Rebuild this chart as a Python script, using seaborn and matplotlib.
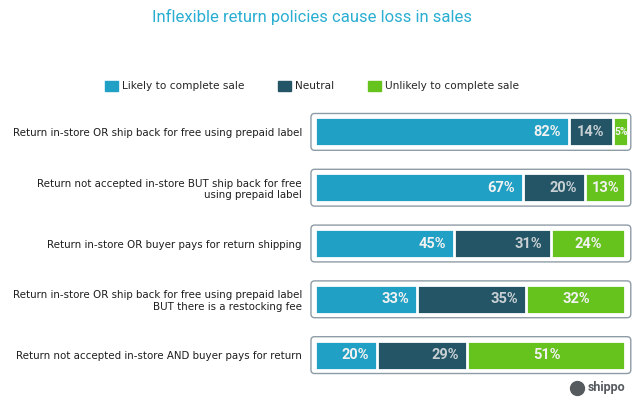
import numpy as np
import pandas as pd
import matplotlib.pyplot as plt
import seaborn as sns
from matplotlib.patches import FancyBboxPatch, Patch
from matplotlib.lines import Line2D

# ---- data ----
policies = [
    "Return in-store OR ship back for free using prepaid label",
    "Return not accepted in-store BUT ship back for free\nusing prepaid label",
    "Return in-store OR buyer pays for return shipping",
    "Return in-store OR ship back for free using prepaid label\nBUT there is a restocking fee",
    "Return not accepted in-store AND buyer pays for return",
]
likely = [82, 67, 45, 33, 20]
neutral = [14, 20, 31, 35, 29]
unlikely = [5, 13, 24, 32, 51]

series_names = ["Likely to complete sale", "Neutral", "Unlikely to complete sale"]
colors = ["#20a0c4", "#245566", "#66c21d"]
label_colors = ["#f2f2f2", "#c8d0d4", "#f2f2f2"]

df = pd.DataFrame({"policy": policies, "likely": likely,
                   "neutral": neutral, "unlikely": unlikely})
df["c1"] = df["likely"]
df["c2"] = df["c1"] + df["neutral"]
df["c3"] = df["c2"] + df["unlikely"]

sns.set_style("white")
plt.rcParams["font.family"] = ["Roboto", "DejaVu Sans"]

fig = plt.figure(figsize=(6.4, 3.98), dpi=100)
ax = fig.add_axes([315 / 640, 1 - 383 / 398, 313 / 640, 279 / 398])

bar_h = 0.52
# stacked bars drawn as overlapping cumulative bars, widest first
for col, c in zip(["c3", "c2", "c1"], colors[::-1]):
    sns.barplot(data=df, x=col, y="policy", color=c, orient="h",
                width=bar_h, edgecolor="white", linewidth=2.0, ax=ax,
                saturation=1)

xmax = 101
ax.set_xlim(0, xmax)
ax.set_ylim(len(policies) - 0.5, -0.5)

# rounded grey frame around every row
ax_w_px = 313
ax_h_px = 279
px_x = ax_w_px / xmax
px_y = ax_h_px / len(policies)
for i in range(len(policies)):
    frame = FancyBboxPatch((-1.3, i - 0.33), xmax + 2.2, 0.66,
                           boxstyle="round,pad=0,rounding_size=1.2",
                           mutation_aspect=px_x / px_y,
                           facecolor="none", edgecolor="#8e9ca6",
                           linewidth=1.0, clip_on=False, zorder=0)
    ax.add_patch(frame)

# value labels
for i, row in df.iterrows():
    segs = [(row["likely"], row["c1"]), (row["neutral"], row["c2"]),
            (row["unlikely"], row["c3"])]
    for k, (v, end) in enumerate(segs):
        if k == 2:
            fs = 10.5 if v >= 8 else 7.5
            ax.text(end - v / 2 + 0.2, i, f"{v}%", ha="center", va="center",
                    color=label_colors[k], fontsize=fs, fontweight="bold")
        else:
            ax.annotate(f"{v}%", (end, i), xytext=(-8, 0),
                        textcoords="offset pixels", ha="right", va="center",
                        color=label_colors[k], fontsize=10.5, fontweight="bold")

ax.set_xlabel("")
ax.set_ylabel("")
ax.set_xticks([])
ax.tick_params(axis="y", length=0, pad=9.5, labelsize=7.4, labelcolor="#1e1e1e")
for t in ax.get_yticklabels():
    t.set_family(["DejaVu Sans"])
sns.despine(ax=ax, left=True, bottom=True)

fig.text(312 / 640, 1 - 17 / 398, "Inflexible return policies cause loss in sales",
         ha="center", va="center", fontsize=12, color="#2aaed2")

handles = [Patch(facecolor=c, edgecolor=c) for c in colors]
leg = fig.legend(handles, series_names, loc="center", ncol=3, frameon=False,
                 bbox_to_anchor=(312 / 640, 1 - 86 / 398),
                 prop={"family": ["DejaVu Sans"], "size": 7.6},
                 handlelength=1.2, handleheight=1.2, handletextpad=0.4,
                 columnspacing=3.2)

# shippo mark
fig.add_artist(Line2D([577 / 640], [1 - 388 / 398], marker="o", markersize=10,
                      color="#555a5e", transform=fig.transFigure))
fig.text(588 / 640, 1 - 387 / 398, "shippo", ha="left", va="center",
         fontsize=9, fontweight="bold", color="#555a5e")

fig.savefig("out.png", dpi=100, facecolor="white")
